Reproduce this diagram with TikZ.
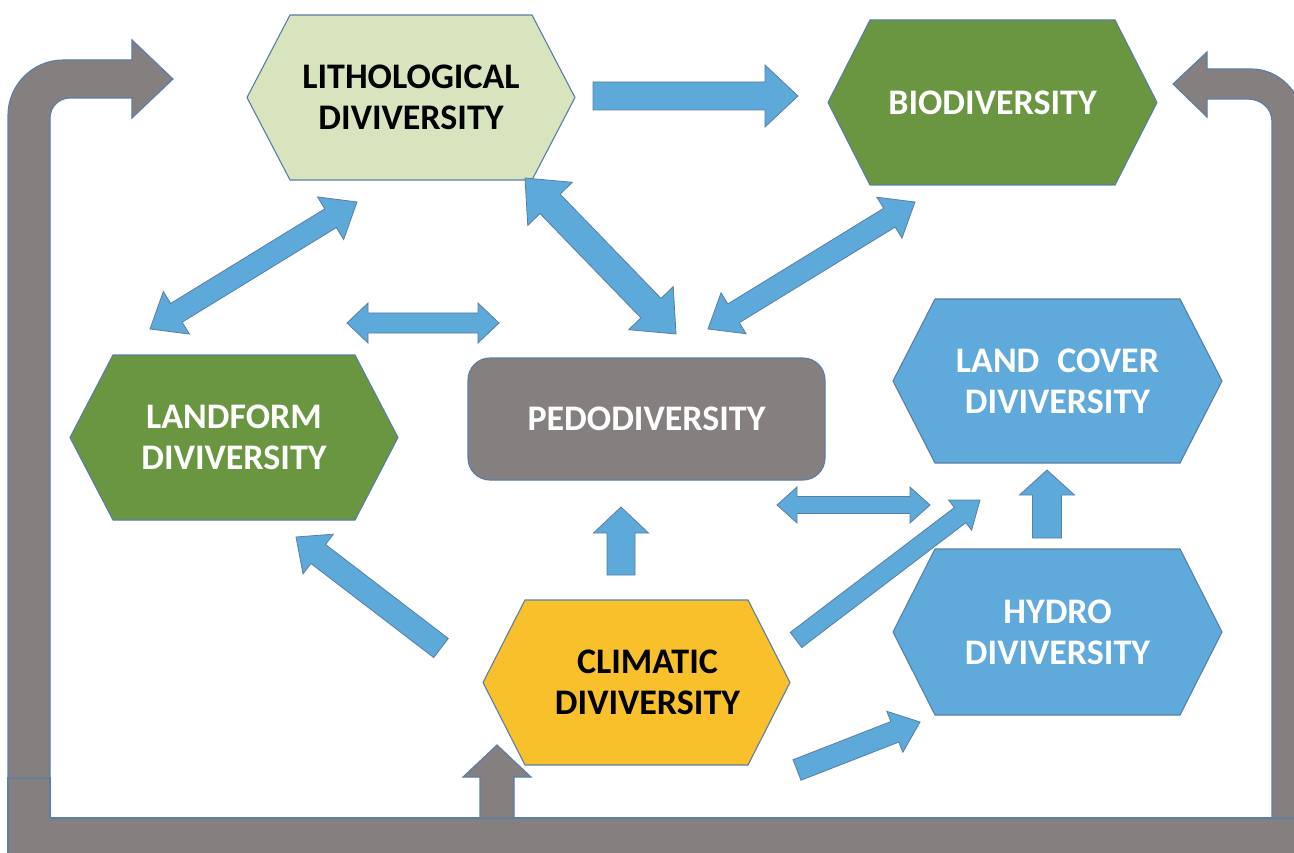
\documentclass[tikz,border=0pt]{standalone}
\usepackage{fontspec}
\setmainfont{Carlito}
\usetikzlibrary{calc}

\definecolor{edgeblue}{HTML}{5A7EA6}
\definecolor{arrowblue}{HTML}{5DA9DA}
\definecolor{paleolive}{HTML}{D7E4BD}
\definecolor{leafgreen}{HTML}{6A9541}
\definecolor{stonegray}{HTML}{857F80}
\definecolor{sunyellow}{HTML}{F8C12C}
\definecolor{waterblue}{HTML}{5FA9DB}

\tikzset{
  shapeedge/.style={draw=edgeblue, line width=1.1pt, line join=miter},
  blockarrow/.style={fill=arrowblue, draw=edgeblue, line width=0.8pt, line join=miter},
  grayarrow/.style={fill=stonegray, draw=edgeblue, line width=1.1pt, line join=miter},
  boxlabel/.style={font=\fontsize{36}{41}\selectfont\bfseries, align=center, inner sep=0pt},
}

% hexagon: name, cx, cy, half width, half height, inset, fill, text colour, text
\newcommand{\hexbox}[9]{%
  \path[shapeedge, fill=#7]
    (#2-#4,#3) -- (#2-#4+#6,#3-#5) -- (#2+#4-#6,#3-#5) --
    (#2+#4,#3) -- (#2+#4-#6,#3+#5) -- (#2-#4+#6,#3+#5) -- cycle;
  \node[boxlabel, text=#8, minimum width=2*#4, minimum height=2*#5] (#1) at (#2,#3) {#9};%
}

% single block arrow: [style] tail, tip, shaft half width, head half width, head length
\newcommand{\sarrow}[6][blockarrow]{%
  \coordinate (hb) at ($(#3)!#6!(#2)$);
  \draw[#1] ($(#2)!#4!90:(#3)$) -- ($(hb)!#4!90:(#3)$) -- ($(hb)!#5!90:(#3)$) -- (#3)
    -- ($(hb)!#5!-90:(#3)$) -- ($(hb)!#4!-90:(#3)$) -- ($(#2)!#4!-90:(#3)$) -- cycle;%
}

% double block arrow: end one, end two, shaft half width, head half width, head length
\newcommand{\darrow}[5]{%
  \coordinate (ha) at ($(#1)!#5!(#2)$);
  \coordinate (hb) at ($(#2)!#5!(#1)$);
  \draw[blockarrow] (#1) -- ($(ha)!#4!90:(#2)$) -- ($(ha)!#3!90:(#2)$) -- ($(hb)!#3!90:(#2)$)
    -- ($(hb)!#4!90:(#2)$) -- (#2) -- ($(hb)!#4!-90:(#2)$) -- ($(hb)!#3!-90:(#2)$)
    -- ($(ha)!#3!-90:(#2)$) -- ($(ha)!#4!-90:(#2)$) -- cycle;%
}

\begin{document}
\begin{tikzpicture}[x=1pt, y=-1pt]
\useasboundingbox (0,0) rectangle (1294,853);
\fill[white] (0,0) rectangle (1294,853);

% feedback loop frame
\draw[grayarrow] (8,778) -- (50,778) -- (50,818) -- (1302,818) -- (1302,870) -- (8,870) -- cycle;
\draw[grayarrow] (8,778) -- (8,115) .. controls (8,85) and (33,60) .. (63,60) -- (132,60)
  -- (132,40) -- (173,79) -- (132,118) -- (132,98) -- (70,98)
  .. controls (59,98) and (50,107) .. (50,118) -- (50,778) -- cycle;
\draw[grayarrow] (1272,818) -- (1272,122) .. controls (1272,108) and (1261,99) .. (1247,99)
  -- (1207,99) -- (1207,117) -- (1173,84) -- (1207,52) -- (1207,69) -- (1252,69)
  .. controls (1278,69) and (1302,92) .. (1302,118) -- (1302,818) -- cycle;

% diversity boxes
\hexbox{litho}{411}{97.5}{164}{82.5}{43}{paleolive}{black}{LITHOLOGICAL\\DIVIVERSITY}
\hexbox{bio}{992.5}{102.5}{164.5}{82.5}{42}{leafgreen}{white}{BIODIVERSITY}
\hexbox{landform}{234}{437.5}{164}{82.5}{43}{leafgreen}{white}{LANDFORM\\DIVIVERSITY}
\hexbox{landcover}{1057.5}{381}{164.5}{82}{42}{waterblue}{white}{LAND\enspace COVER\\DIVIVERSITY}
\hexbox{hydro}{1057.5}{632}{164.5}{83}{42}{waterblue}{white}{HYDRO\\DIVIVERSITY}
\hexbox{climatic}{636.5}{682.5}{153.5}{82.5}{42}{sunyellow}{black}{\hspace*{22pt}CLIMATIC\\\hspace*{22pt}DIVIVERSITY}
\node[shapeedge, fill=stonegray, rounded corners=22pt, minimum width=357pt, minimum height=122pt,
  boxlabel, text=white] (pedo) at (646.5,419) {PEDODIVERSITY};

% arrow end points
\coordinate (lbT) at (593,96);   \coordinate (lbH) at (798,96);
\coordinate (llA) at (357,202);  \coordinate (llB) at (150,329);
\coordinate (lpA) at (525,178);  \coordinate (lpB) at (676,334);
\coordinate (bpA) at (915,202);  \coordinate (bpB) at (708,329);
\coordinate (fpA) at (347,323);  \coordinate (fpB) at (499,323);
\coordinate (clT) at (441,648);  \coordinate (clH) at (296,537);
\coordinate (cpT) at (621,575);  \coordinate (cpH) at (621,507);
\coordinate (pcA) at (777,505);  \coordinate (pcB) at (930,505);
\coordinate (ccT) at (796,640);  \coordinate (ccH) at (980,500);
\coordinate (hcT) at (1047,538); \coordinate (hcH) at (1047,470);
\coordinate (chT) at (797,770);  \coordinate (chH) at (920,722);
\coordinate (gcT) at (497,818);  \coordinate (gcH) at (497,745);

% links between the diversities
\sarrow{lbT}{lbH}{14pt}{31pt}{33pt}
\darrow{llA}{llB}{11pt}{25pt}{31pt}
\darrow{lpA}{lpB}{14pt}{31pt}{36pt}
\darrow{bpA}{bpB}{11pt}{24pt}{30pt}
\darrow{fpA}{fpB}{10pt}{20pt}{21pt}
\sarrow{clT}{clH}{12pt}{25pt}{28pt}
\sarrow{cpT}{cpH}{14pt}{27.5pt}{26pt}
\darrow{pcA}{pcB}{8.5pt}{18pt}{20pt}
\sarrow{ccT}{ccH}{9.5pt}{19pt}{25pt}
\sarrow{hcT}{hcH}{14.5pt}{27.5pt}{25pt}
\sarrow{chT}{chH}{11pt}{22pt}{27pt}
\sarrow[grayarrow]{gcT}{gcH}{17pt}{34pt}{32pt}
\end{tikzpicture}
\end{document}
